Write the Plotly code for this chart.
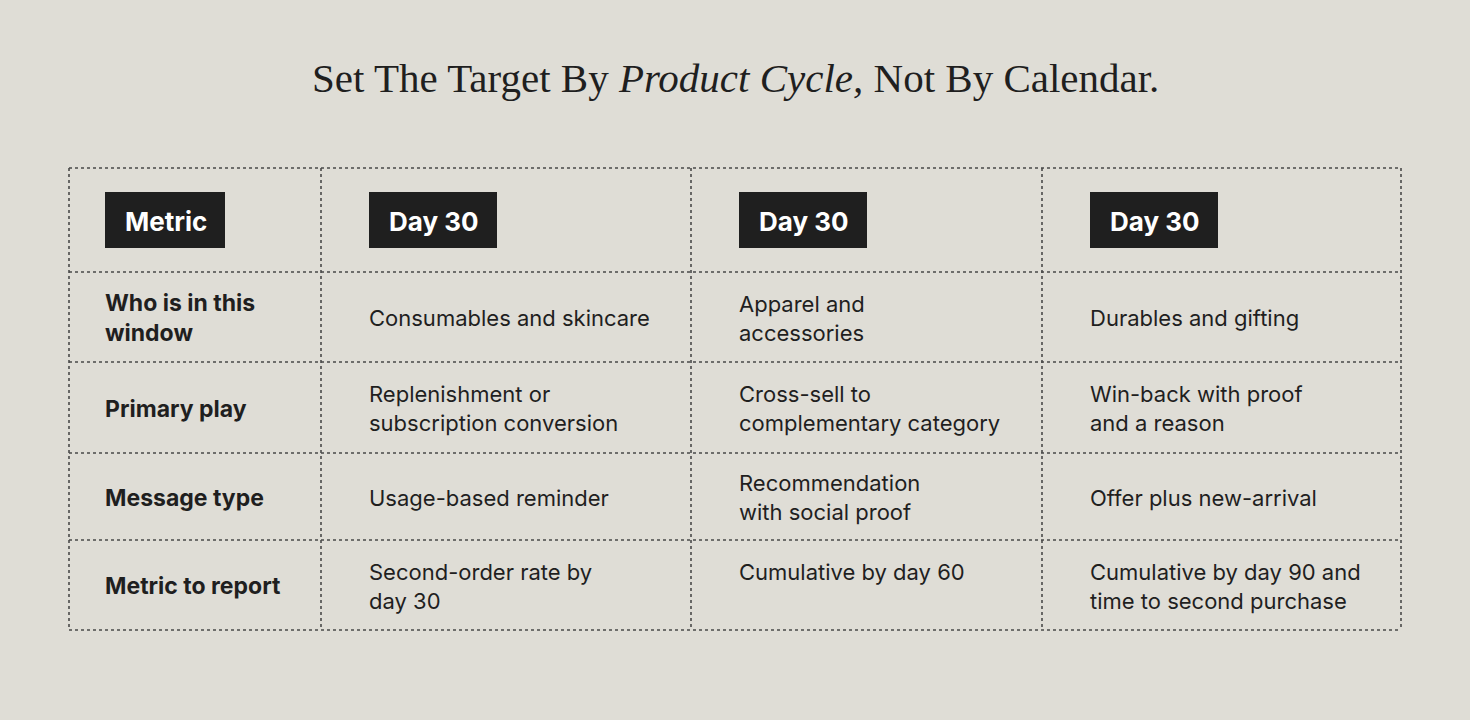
import plotly.graph_objects as go

# table content
col_headers = ["Metric", "Day 30", "Day 30", "Day 30"]
row_labels = ["Who is in this<br>window", "Primary play", "Message type", "Metric to report"]
consumables = [
    "Consumables and skincare",
    "Replenishment or<br>subscription conversion",
    "Usage-based reminder",
    "Second-order rate by<br>day 30",
]
apparel = [
    "Apparel and<br>accessories",
    "Cross-sell to<br>complementary category",
    "Recommendation<br>with social proof",
    "Cumulative by day 60<br>\u00a0",
]
durables = [
    "Durables and gifting",
    "Win-back with proof<br>and a reason",
    "Offer plus new-arrival",
    "Cumulative by day 90 and<br>time to second purchase",
]
header_box_widths = [120, 128, 128, 128]

BG = "#dfddd6"
INK = "#1f1f1f"
LINE = "#4a4a4a"
BODY_FONT = "Inter, 'Noto Sans', sans-serif"

# grid geometry in pixels
col_edges = [69, 321, 691, 1042, 1401]
row_edges = [168, 272, 362, 453, 540, 630]
text_x = [105, 369, 739, 1090]

fig = go.Figure()

shapes = []
for x in col_edges:
    shapes.append(dict(type="line", x0=x, x1=x, y0=row_edges[0], y1=row_edges[-1],
                       line=dict(color=LINE, width=1.6, dash="dot")))
for y in row_edges:
    shapes.append(dict(type="line", x0=col_edges[0], x1=col_edges[-1], y0=y, y1=y,
                       line=dict(color=LINE, width=1.6, dash="dot")))

annotations = []
header_mid = (row_edges[0] + row_edges[1]) / 2
for i, label in enumerate(col_headers):
    x0 = text_x[i]
    shapes.append(dict(type="rect", x0=x0, x1=x0 + header_box_widths[i],
                       y0=header_mid - 28, y1=header_mid + 28,
                       fillcolor=INK, line=dict(width=0), layer="below"))
    annotations.append(dict(x=x0 + header_box_widths[i] / 2 + 1, y=header_mid + 1, text=f"<b>{label}</b>",
                            showarrow=False, xanchor="center", yanchor="middle",
                            font=dict(family=BODY_FONT, size=26, color="#ffffff")))

columns = [row_labels, consumables, apparel, durables]
for c, cells in enumerate(columns):
    for r, txt in enumerate(cells):
        ymid = (row_edges[r + 1] + row_edges[r + 2]) / 2 + 1
        annotations.append(dict(x=text_x[c] - 2, y=ymid, text=f"<b>{txt}</b>" if c == 0 else txt,
                                showarrow=False, xanchor="left", yanchor="middle", align="left",
                                font=dict(family=BODY_FONT, size=23 if c == 0 else 22, color=INK)))

annotations.append(dict(x=735, y=78, text="Set The Target By <i>Product Cycle,</i> Not By Calendar.",
                        showarrow=False, xanchor="center", yanchor="middle",
                        font=dict(family="'Liberation Serif', 'DejaVu Serif', serif", size=41, color=INK)))

fig.update_layout(
    width=1470, height=720,
    margin=dict(l=0, r=0, t=0, b=0),
    paper_bgcolor=BG, plot_bgcolor=BG,
    xaxis=dict(range=[0, 1470], visible=False, fixedrange=True),
    yaxis=dict(range=[720, 0], visible=False, fixedrange=True),
    shapes=shapes, annotations=annotations,
    showlegend=False,
)
fig.write_html("out.html", config={"displayModeBar": False},
               post_script="document.body.style.margin='0';document.body.style.background='" + BG + "';")
